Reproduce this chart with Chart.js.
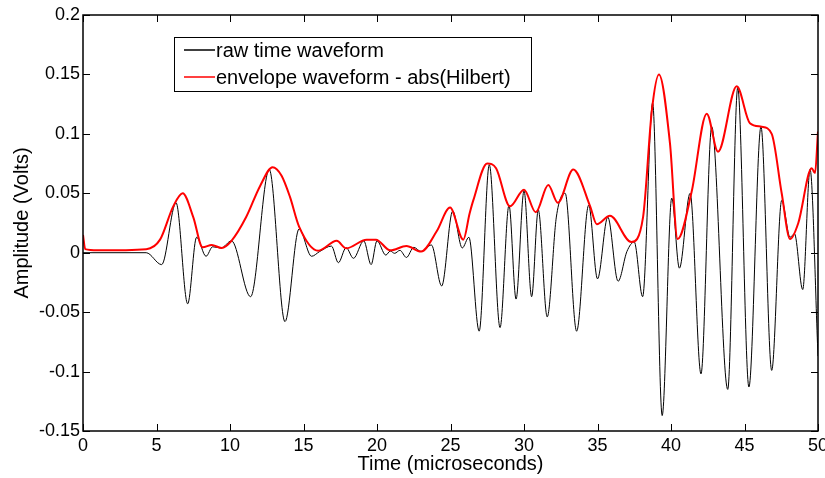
<!DOCTYPE html>
<html>
<head>
<meta charset="utf-8">
<script src="https://cdn.jsdelivr.net/npm/chart.js@4.4.1/dist/chart.umd.min.js"></script>
<style>
  html, body { margin: 0; padding: 0; background: #fff; }
  #wrap { width: 825px; height: 478px; }
</style>
</head>
<body>
<div id="wrap"><canvas id="c" width="825" height="478"></canvas></div>
<script>
  // raw waveform (turning points of the trace)
  const rawTime = [0, 4.3, 5.35, 6.33, 7.12, 7.73, 8.37, 8.82, 9.4, 10.1, 11.4, 12.67, 13.74, 14.7, 15.55,
    16.1, 16.9, 17.37, 17.9, 18.4, 19.1, 19.6, 20.0, 20.6, 20.9, 21.2, 21.56, 22.0, 22.5, 23.0, 23.7,
    24.4, 25.15, 25.8, 26.25, 26.95, 27.64, 28.37, 28.98, 29.46, 30.0, 30.52, 30.97, 31.58, 32.2, 32.8,
    33.58, 34.4, 35.0, 35.7, 36.4, 37.0, 37.5, 38.07, 38.75, 39.4, 40.05, 40.57, 41.3, 42.04, 42.77,
    43.86, 44.54, 45.3, 46.12, 46.85, 47.53, 48.1, 48.4, 48.96, 49.46, 50];
  const rawAmp = [0, 0, -0.010, 0.042, -0.043, 0.013, -0.003, 0.005, 0.004, 0.010, -0.037, 0.070, -0.058, 0.020, -0.003,
    0.001, 0.0056, -0.0084, 0.0042, -0.0047, 0.010, -0.010, 0.010, -0.002, 0.0014, -0.0005, 0.002, -0.004, 0.0045, 0.001, 0.0065,
    -0.028, 0.035, 0.004, 0.013, -0.066, 0.074, -0.063, 0.040, -0.039, 0.052, -0.037, 0.036, -0.054, 0.030, 0.050,
    -0.066, 0.040, -0.022, 0.030, -0.024, 0.001, 0.009, -0.037, 0.126, -0.137, 0.046, -0.013, 0.050, -0.102, 0.106,
    -0.115, 0.139, -0.113, 0.106, -0.099, 0.044, 0.013, 0.016, -0.031, 0.070, -0.087];

  // envelope |hilbert|
  const envTime = [0, 0.15, 1, 4.3, 5.24, 6.14, 6.78, 7.5, 8.14, 8.76, 9.43, 10.1, 11.1, 12.04, 12.9, 13.5,
    14.08, 14.7, 16.0, 17.26, 17.9, 19.3, 19.93, 20.9, 22.0, 23.0, 24.06, 24.97, 25.87, 26.3, 26.55,
    27.5, 28.1, 29.05, 30.0, 30.8, 31.65, 32.3, 33.35, 34.5, 34.95, 35.85, 37.3, 38.1, 38.7, 39.18,
    39.93, 40.45, 41.4, 42.43, 43.2, 44.47, 45.37, 46.17, 46.85, 47.53, 48.1, 48.66, 49.57, 49.8, 50];
  const envAmp = [0.015, 0.003, 0.002, 0.003, 0.011, 0.039, 0.050, 0.030, 0.0045, 0.0065, 0.004, 0.010, 0.030, 0.056, 0.072, 0.065,
    0.047, 0.022, 0.0017, 0.010, 0.0037, 0.011, 0.011, 0.002, 0.0056, 0.001, 0.018, 0.038, 0.011, 0.033, 0.044,
    0.075, 0.071, 0.039, 0.053, 0.034, 0.057, 0.042, 0.070, 0.039, 0.024, 0.031, 0.009, 0.030, 0.120, 0.150,
    0.092, 0.0115, 0.051, 0.117, 0.085, 0.140, 0.109, 0.106, 0.100, 0.050, 0.0115, 0.025, 0.071, 0.067, 0.102];

  const xTicks = [0, 5, 10, 15, 20, 25, 30, 35, 40, 45, 50];
  const legendLabels = ["raw time waveform", "envelope waveform - abs(Hilbert)"];
  const seriesColors = ["#000000", "#ff0000"];

  const toPoints = (xs, ys) => xs.map((x, i) => ({ x: x, y: ys[i] }));

  // matlab style box, inward ticks and the legend
  const matlabFrame = {
    id: "matlabFrame",
    afterDraw(chart) {
      const ctx = chart.ctx;
      const a = chart.chartArea;
      const xs = chart.scales.x, ys = chart.scales.y;
      ctx.save();
      ctx.strokeStyle = "#000";
      ctx.lineWidth = 1;
      ctx.beginPath();
      xs.ticks.forEach(t => {
        const px = Math.round(xs.getPixelForValue(t.value)) + 0.5;
        ctx.moveTo(px, a.bottom); ctx.lineTo(px, a.bottom - 7);
        ctx.moveTo(px, a.top); ctx.lineTo(px, a.top + 7);
      });
      ys.ticks.forEach(t => {
        const py = Math.round(ys.getPixelForValue(t.value)) + 0.5;
        ctx.moveTo(a.left, py); ctx.lineTo(a.left + 7, py);
        ctx.moveTo(a.right, py); ctx.lineTo(a.right - 7, py);
      });
      ctx.stroke();
      ctx.lineWidth = 1.5;
      ctx.strokeRect(a.left, a.top, a.right - a.left, a.bottom - a.top);

      // legend box
      ctx.fillStyle = "#fff";
      ctx.fillRect(174, 37, 357, 54);
      ctx.lineWidth = 1;
      ctx.strokeStyle = "#000";
      ctx.strokeRect(174.5, 37.5, 357, 54);
      ctx.font = "20px 'Liberation Sans', Arial, sans-serif";
      ctx.textBaseline = "middle";
      legendLabels.forEach((lab, i) => {
        const y = 50 + i * 27;
        ctx.beginPath();
        ctx.strokeStyle = seriesColors[i];
        ctx.lineWidth = 1.5;
        ctx.moveTo(184, y); ctx.lineTo(215, y);
        ctx.stroke();
        ctx.fillStyle = "#000";
        ctx.fillText(lab, 216, y + 1);
      });
      ctx.restore();
    }
  };

  new Chart(document.getElementById("c"), {
    type: "line",
    data: {
      datasets: [
        {
          label: legendLabels[0],
          data: toPoints(rawTime, rawAmp),
          borderColor: seriesColors[0],
          borderWidth: 1,
          pointRadius: 0,
          cubicInterpolationMode: "monotone",
          order: 1
        },
        {
          label: legendLabels[1],
          data: toPoints(envTime, envAmp),
          borderColor: seriesColors[1],
          borderWidth: 2,
          pointRadius: 0,
          cubicInterpolationMode: "monotone",
          order: 0
        }
      ]
    },
    options: {
      responsive: false,
      animation: false,
      devicePixelRatio: 1,
      layout: { padding: { top: 15, right: 7, left: 0, bottom: 0 } },
      plugins: { legend: { display: false }, tooltip: { enabled: false } },
      scales: {
        x: {
          type: "linear",
          min: 0, max: 50,
          grid: { display: false, drawTicks: false },
          border: { display: false },
          afterBuildTicks: s => { s.ticks = xTicks.map(v => ({ value: v })); },
          afterFit: s => { s.height = 47; s.paddingLeft = 0; s.paddingRight = 0; },
          ticks: { color: "#000", padding: 4, maxRotation: 0, font: { family: "'Liberation Sans', Arial", size: 18 } },
          title: {
            display: true, text: "Time (microseconds)", color: "#000",
            font: { family: "'Liberation Sans', Arial", size: 20 },
            padding: { top: 0, bottom: 2 }
          }
        },
        y: {
          min: -0.15, max: 0.2,
          grid: { display: false, drawTicks: false },
          border: { display: false },
          afterFit: s => { s.width = 83; s.paddingTop = 0; s.paddingBottom = 0; },
          ticks: {
            stepSize: 0.05, color: "#000", padding: 3,
            font: { family: "'Liberation Sans', Arial", size: 18 },
            callback: v => parseFloat(v.toFixed(2)).toString()
          },
          title: {
            display: true, text: "Amplitude (Volts)", color: "#000",
            font: { family: "'Liberation Sans', Arial", size: 20 },
            padding: { top: 10, bottom: 0 }
          }
        }
      }
    },
    plugins: [matlabFrame]
  });
</script>
</body>
</html>
